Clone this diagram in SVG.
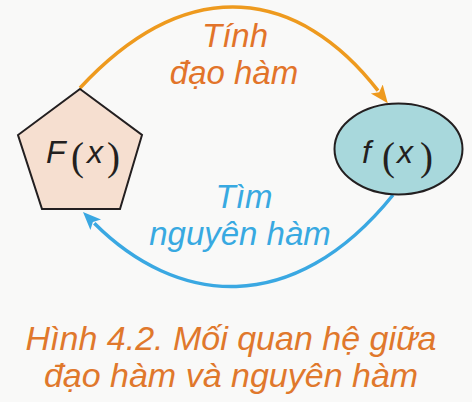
<svg xmlns="http://www.w3.org/2000/svg" width="472" height="402" viewBox="0 0 472 402">
<style>
.lbl{font-family:"Liberation Sans",Arial,sans-serif;font-style:italic;font-size:33px}
.math{font-family:"Liberation Sans",Arial,sans-serif;font-size:32px;fill:#231f20}
.it{font-style:italic}
.par{font-family:"Liberation Serif","Times New Roman",serif;font-style:normal;font-size:39px}
.cap{font-family:"Liberation Sans",Arial,sans-serif;font-style:italic;font-size:34px;fill:#e0782c}
.node{stroke:#231f20;stroke-width:2}
.conn{fill:none;stroke-width:3.5}
</style>
<defs>
<marker id="ahO" markerUnits="userSpaceOnUse" markerWidth="22" markerHeight="18" refX="2" refY="0" viewBox="0 -9 22 18" orient="auto">
<path d="M0,-7.5 L18,0 L0,7.5 L4,0 Z" fill="#ee9a1e"/>
</marker>
<marker id="ahB" markerUnits="userSpaceOnUse" markerWidth="22" markerHeight="18" refX="2" refY="0" viewBox="0 -9 22 18" orient="auto">
<path d="M0,-7.5 L18,0 L0,7.5 L4,0 Z" fill="#3aa8e2"/>
</marker>
</defs>
<rect width="472" height="402" fill="#f9f9f8"/>
<g id="connectors">
<path class="conn" stroke="#ee9a1e" d="M80,88 C190,-30 300,-10 378,90.6" marker-end="url(#ahO)"/>
<path class="conn" stroke="#3aa8e2" d="M393,195 C292,320 175.6,304.6 94.3,223.3" marker-end="url(#ahB)"/>
</g>
<g id="label-top">
<text class="lbl" fill="#e2742a" x="235" y="47" text-anchor="middle">Tính</text>
<text class="lbl" fill="#e2742a" x="234" y="84" text-anchor="middle">đạo hàm</text>
</g>
<g id="label-bottom">
<text class="lbl" fill="#38a9e1" x="244" y="208" text-anchor="middle">Tìm</text>
<text class="lbl" fill="#38a9e1" x="240" y="245" text-anchor="middle">nguyên hàm</text>
</g>
<g id="node-F">
<polygon class="node" fill="#f6dfd0" points="80,89 142,135 120,209 42,209 18,135"/>
<text class="math" y="163"><tspan class="it" x="46">F</tspan><tspan class="par" x="71" y="170">(</tspan><tspan class="it" x="87" y="163">x</tspan><tspan class="par" x="107" y="170">)</tspan></text>
</g>
<g id="node-f">
<ellipse class="node" fill="#a8d8dc" cx="398.5" cy="149" rx="64" ry="45.5"/>
<text class="math" y="163"><tspan class="it" x="362">f</tspan><tspan class="par" x="382" y="170">(</tspan><tspan class="it" x="397" y="163">x</tspan><tspan class="par" x="420" y="170">)</tspan></text>
</g>
<g id="caption">
<text class="cap" x="231" y="350" text-anchor="middle">Hình 4.2. Mối quan hệ giữa</text>
<text class="cap" x="231" y="387" text-anchor="middle">đạo hàm và nguyên hàm</text>
</g>
</svg>
